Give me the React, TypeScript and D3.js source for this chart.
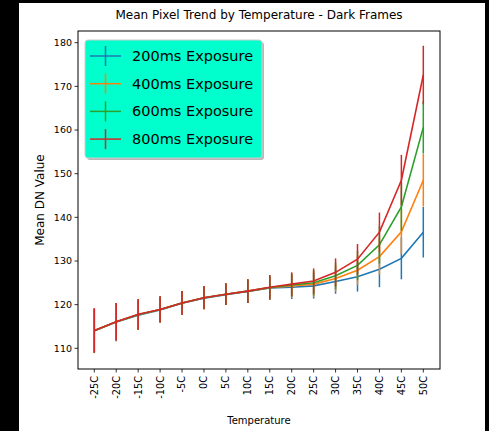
import React from "react";
import * as d3 from "d3";

const temps = ["-25C","-20C","-15C","-10C","-5C","0C","5C","10C","15C","20C","25C","30C","35C","40C","45C","50C"];
const exposures = ["200ms Exposure","400ms Exposure","600ms Exposure","800ms Exposure"];
const colors = ["#1f77b4","#ff7f0e","#2ca02c","#d62728"];
const mean200 = [114.0,116.0,117.6,118.8,120.3,121.5,122.3,123.0,123.8,124.0,124.3,125.3,126.4,128.1,130.6,136.6];
const mean400 = [114.0,116.1,117.7,118.9,120.4,121.6,122.4,123.1,123.9,124.3,124.7,126.0,127.9,131.0,136.7,148.5];
const mean600 = [114.0,116.1,117.7,118.9,120.4,121.6,122.4,123.1,123.9,124.5,125.0,126.6,129.0,133.7,142.4,160.6];
const mean800 = [114.1,116.1,117.8,118.9,120.4,121.6,122.4,123.1,124.0,124.7,125.4,127.4,130.4,136.6,148.5,172.6];
const err200 = [5.0,4.4,3.4,2.9,2.6,2.5,2.4,2.6,2.6,2.7,2.9,2.8,3.4,4.1,4.8,5.8];
const err400 = [5.0,4.3,3.5,3.0,2.7,2.6,2.5,2.7,2.7,2.7,2.9,3.0,3.4,4.2,5.2,6.0];
const err600 = [5.1,4.3,3.5,3.0,2.7,2.6,2.5,2.7,2.8,2.7,2.9,3.1,3.4,4.3,5.5,6.0];
const err800 = [5.1,4.3,3.5,3.0,2.7,2.7,2.5,2.7,2.8,2.7,2.9,3.2,3.5,4.5,5.8,6.7];
const yTicks = [110,120,130,140,150,160,170,180];

const means = [mean200, mean400, mean600, mean800];
const errs = [err200, err400, err600, err800];

const W = 489, H = 431;
const left = 78, right = 440, top = 31, bottom = 369;
const FONT = "DejaVu Sans, sans-serif";

export default function App() {
  const x = d3.scalePoint<string>().domain(temps).range([94.3, 423.3]);
  const y = d3.scaleLinear().domain([105.26, 182.68]).range([bottom, top]);
  const line = d3.line<number>().x((_, i) => x(temps[i])!).y((v) => y(v));

  return (
    <div style={{ position: "fixed", left: 0, top: 0 }}>
      <svg width={W} height={H} style={{ display: "block", fontFamily: FONT }}>
        <rect x={0} y={0} width={W} height={H} fill="#000" />
        <rect x={19} y={3} width={466} height={H - 3} fill="#fff" />
        <text x={(left + right) / 2} y={19} textAnchor="middle" fontSize={12} fill="#000">
          Mean Pixel Trend by Temperature - Dark Frames
        </text>
        {/* series */}
        {means.map((m, s) => (
          <g key={s}>
            <path d={line(m)!} fill="none" stroke={colors[s]} strokeWidth={1.6} />
            {m.map((v, i) => (
              <line key={i} x1={x(temps[i])} x2={x(temps[i])} y1={y(v - errs[s][i])} y2={y(v + errs[s][i])}
                stroke={colors[s]} strokeWidth={1.5} />
            ))}
          </g>
        ))}
        {/* axes frame */}
        <rect x={left} y={top} width={right - left} height={bottom - top} fill="none" stroke="#000" strokeWidth={1} />
        {/* y ticks */}
        {yTicks.map((t) => (
          <g key={t} transform={`translate(0,${y(t)})`}>
            <line x1={left - 3.5} x2={left} stroke="#000" strokeWidth={0.8} />
            <text x={left - 6} dy="0.35em" textAnchor="end" fontSize={9.5} fill="#000">{t}</text>
          </g>
        ))}
        {/* x ticks */}
        {temps.map((t) => (
          <g key={t} transform={`translate(${x(t)},${bottom})`}>
            <line y1={0} y2={3.5} stroke="#000" strokeWidth={0.8} />
            <text transform="translate(0,7) rotate(-90)" textAnchor="end" dy="0.35em" fontSize={9.8} fill="#000">{t}</text>
          </g>
        ))}
        <text x={(left + right) / 2} y={424} textAnchor="middle" fontSize={10} fill="#000">Temperature</text>
        <text transform={`translate(44,${(top + bottom) / 2}) rotate(-90)`} textAnchor="middle" fontSize={12} fill="#000">Mean DN Value</text>
        {/* legend */}
        <rect x={87} y={42} width={177} height={118} rx={3} fill="#888" opacity={0.6} />
        <rect x={85} y={40} width={177} height={118} rx={3} fill="#00ffcc" stroke="#cccccc" strokeWidth={1} />
        {exposures.map((e, i) => {
          const cy = 56 + i * 27.7;
          return (
            <g key={e}>
              <line x1={90} x2={121} y1={cy} y2={cy} stroke={colors[i]} strokeWidth={1.5} />
              <line x1={105.5} x2={105.5} y1={cy - 10} y2={cy + 10} stroke={colors[i]} strokeWidth={1.5} />
              <text x={132} y={cy} dy="0.35em" fontSize={14.5} fill="#000">{e}</text>
            </g>
          );
        })}
      </svg>
    </div>
  );
}
